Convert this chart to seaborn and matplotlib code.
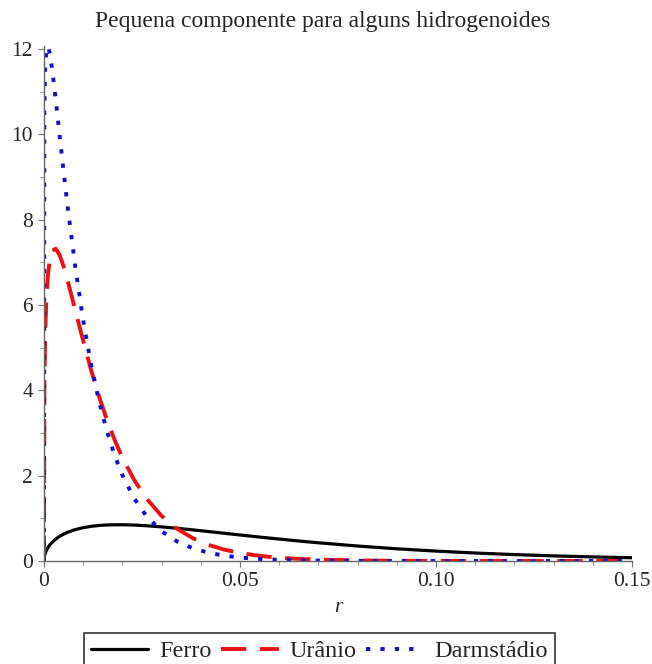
import numpy as np
import pandas as pd
import matplotlib
matplotlib.use("Agg")
import matplotlib.pyplot as plt
from matplotlib.ticker import MultipleLocator, FixedLocator, FixedFormatter
import seaborn as sns

# ---- data ----
r = [0, 0.0001, 0.0003, 0.0006, 0.001, 0.0015, 0.002, 0.003, 0.004, 0.005,
     0.006, 0.008, 0.010, 0.012, 0.014, 0.016, 0.018, 0.020, 0.023, 0.026,
     0.030, 0.034, 0.038, 0.042, 0.046, 0.050, 0.055, 0.060, 0.065, 0.070,
     0.080, 0.090, 0.100, 0.110, 0.120, 0.130, 0.140, 0.150]

ferro = [0, 0.101, 0.175, 0.245, 0.313, 0.378, 0.431, 0.515, 0.579, 0.630,
         0.672, 0.737, 0.781, 0.812, 0.832, 0.844, 0.849, 0.850, 0.842, 0.827,
         0.800, 0.766, 0.729, 0.690, 0.650, 0.610, 0.561, 0.514, 0.469, 0.427,
         0.351, 0.286, 0.232, 0.187, 0.150, 0.120, 0.096, 0.076]

uranio = [0, 4.10, 5.29, 6.12, 6.70, 7.08, 7.26, 7.32, 7.17, 6.90,
          6.58, 5.87, 5.16, 4.48, 3.87, 3.32, 2.84, 2.42, 1.90, 1.48,
          1.056, 0.751, 0.533, 0.377, 0.266, 0.187, 0.120, 0.077, 0.050, 0.032,
          0.013, 0.005, 0.002, 0.0008, 0.0003, 0.0001, 0.00005, 0.00002]

darmstadio = [0, 10.58, 11.55, 11.98, 12.06, 11.89, 11.58, 10.81, 9.96, 9.13,
              8.33, 6.88, 5.64, 4.61, 3.76, 3.06, 2.48, 2.01, 1.468, 1.069,
              0.698, 0.455, 0.297, 0.193, 0.125, 0.081, 0.047, 0.028, 0.016, 0.009,
              0.003, 0.001, 0.0003, 0.0001, 0.00003, 0.00001, 0.0, 0.0]

series_names = ["Ferro", "Urânio", "Darmstádio"]
title = "Pequena componente para alguns hidrogenoides"
xticks = [0, 0.05, 0.10, 0.15]
xtick_labels = ["0", "0.05", "0.10", "0.15"]
yticks = [0, 2, 4, 6, 8, 10, 12]
ytick_labels = ["0", "2", "4", "6", "8", "10", "12"]

# ---- style ----
sns.set_style("ticks")
plt.rcParams["font.family"] = ["Liberation Serif", "DejaVu Serif"]

fig = plt.figure(figsize=(6.52, 6.64), dpi=100)
ax = fig.add_axes([44 / 652, 1 - 561 / 664, (632 - 44) / 652, (561 - 46) / 664])

sns.lineplot(x=r, y=ferro, ax=ax, color="black", lw=2.3, label=series_names[0],
             sort=False, estimator=None)
sns.lineplot(x=r, y=uranio, ax=ax, color="#EE1111", lw=2.8, label=series_names[1],
             sort=False, estimator=None)
sns.lineplot(x=r, y=darmstadio, ax=ax, color="#1010CC", lw=2.8, label=series_names[2],
             sort=False, estimator=None)
lines = ax.get_lines()
lines[1].set_dashes([6.5, 3.5])
lines[2].set_dashes([1.1, 2.6])

ax.set_xlim(0, 0.15)
ax.set_ylim(0, 12.07)
ax.xaxis.set_major_locator(FixedLocator(xticks))
ax.xaxis.set_major_formatter(FixedFormatter(xtick_labels))
ax.xaxis.set_minor_locator(MultipleLocator(0.01))
ax.yaxis.set_major_locator(FixedLocator(yticks))
ax.yaxis.set_major_formatter(FixedFormatter(ytick_labels))
ax.yaxis.set_minor_locator(MultipleLocator(1))

for s in ["top", "right"]:
    ax.spines[s].set_visible(False)
for s in ["left", "bottom"]:
    ax.spines[s].set_color("#666666")
    ax.spines[s].set_linewidth(1.0)

ax.tick_params(axis="both", which="major", direction="out", length=4,
               width=0.8, color="#777777", labelsize=15.5, pad=4)
ax.tick_params(axis="both", which="minor", direction="out", length=3,
               width=0.8, color="#999999")

ax.set_xlabel("r", fontsize=15.5, style="italic", labelpad=5)
ax.set_ylabel("")
fig.text(0.495, 0.968, title, ha="center", va="center", fontsize=17)

handles, labels = ax.get_legend_handles_labels()
ax.get_legend().remove()
leg = fig.legend(handles, labels, loc="upper center", bbox_to_anchor=(0.49, 1 - 633 / 664),
                 ncol=3, frameon=True, fancybox=False, fontsize=17.5,
                 handlelength=2.35, handletextpad=0.45, columnspacing=0.4,
                 borderpad=0.3, borderaxespad=0.0)
leg.get_frame().set_edgecolor("black")
leg.get_frame().set_linewidth(1.2)

fig.savefig("out.png", dpi=100)
